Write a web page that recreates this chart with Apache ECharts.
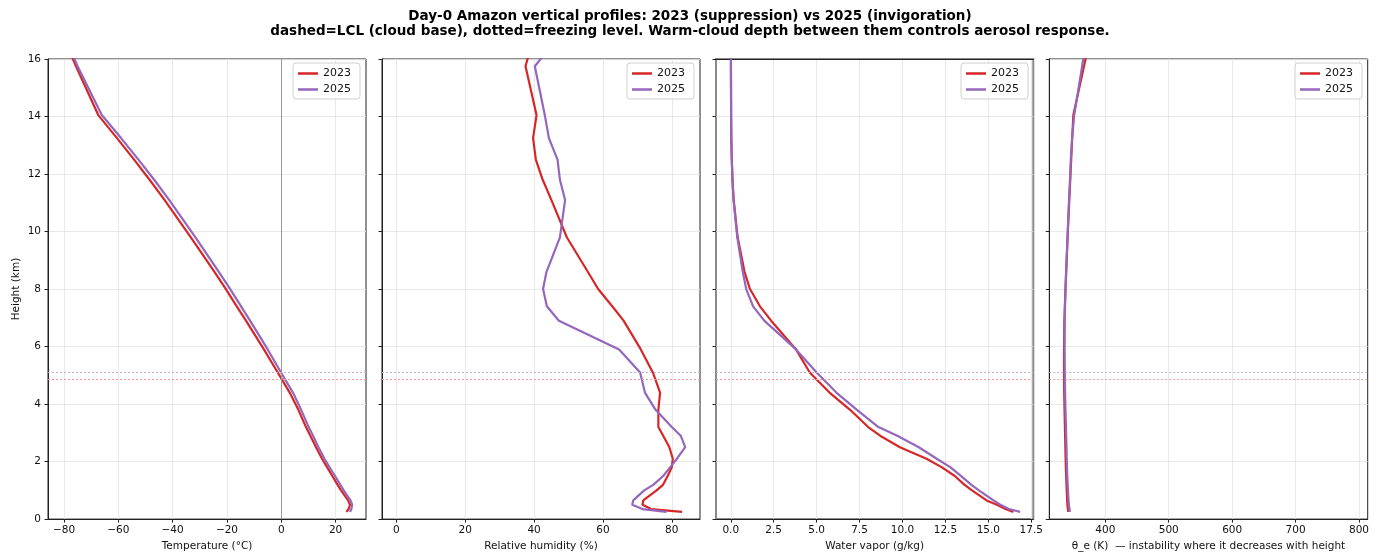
<!DOCTYPE html>
<html>
<head>
<meta charset="utf-8">
<script src="https://cdn.jsdelivr.net/npm/echarts@6/dist/echarts.min.js"></script>
<style>
  html, body { margin: 0; padding: 0; background: #fff; }
  #chart { width: 1380px; height: 557px; }
</style>
</head>
<body>
<div id="chart"></div>
<script>
// ---- Data ----
const heights = [0.25, 0.35, 0.5, 0.65, 1.0, 1.2, 1.5, 1.8, 2.1, 2.5, 2.9, 3.2, 3.8, 4.4, 5.1, 5.9, 6.9, 7.4, 8.0, 8.6, 9.8, 11.1, 11.8, 12.5, 13.25, 14.05, 15.75, 16.6];

const temp2023 = [24.0, 24.8, 25.3, 24.6, 22.0, 20.7, 18.8, 16.9, 15.0, 12.8, 10.7, 9.1, 6.3, 3.1, -1.3, -6.4, -13.0, -16.4, -20.4, -24.6, -33.3, -43.0, -48.5, -54.2, -60.5, -67.4, -75.6, -79.5];
const temp2025 = [25.3, 25.8, 26.1, 25.5, 23.0, 21.7, 19.8, 17.8, 15.9, 13.7, 11.7, 10.1, 7.3, 4.3, -0.1, -5.0, -11.5, -14.8, -18.8, -23.0, -31.6, -41.3, -46.8, -52.6, -59.0, -66.1, -75.0, -79.0];

const rh2023 = [83.0, 74.0, 71.5, 71.7, 75.6, 77.5, 78.8, 80.0, 80.3, 79.3, 77.5, 76.1, 76.1, 76.6, 74.5, 71.0, 66.0, 62.7, 58.6, 55.6, 49.5, 45.0, 42.5, 40.5, 39.7, 40.7, 37.5, 39.5];
const rh2025 = [78.5, 71.5, 68.5, 68.8, 72.0, 74.7, 77.5, 79.5, 81.5, 83.9, 82.6, 80.0, 75.3, 72.2, 70.8, 64.7, 47.2, 43.7, 42.6, 43.6, 47.5, 49.0, 47.5, 46.8, 44.3, 43.1, 40.2, 46.0];

const q2023 = [16.46, 16.0, 15.5, 14.9, 14.05, 13.6, 13.05, 12.3, 11.4, 9.85, 8.7, 8.0, 6.95, 5.75, 4.6, 3.8, 2.35, 1.7, 1.12, 0.8, 0.4, 0.17, 0.1, 0.06, 0.03, 0.02, 0.01, 0.01];
const q2025 = [16.85, 16.2, 15.7, 15.3, 14.45, 14.0, 13.4, 12.8, 12.0, 10.95, 9.7, 8.6, 7.35, 6.15, 5.0, 3.8, 1.95, 1.3, 0.9, 0.7, 0.38, 0.16, 0.1, 0.06, 0.03, 0.02, 0.01, 0.01];

const thetaE2023 = [341.6, 341.0, 340.2, 339.8, 339.2, 338.8, 338.3, 337.8, 337.4, 337.0, 336.6, 336.3, 335.7, 335.2, 334.9, 334.9, 335.5, 336.2, 337.2, 338.3, 340.6, 343.2, 344.8, 346.2, 347.8, 349.6, 366.4, 374.8];
const thetaE2025 = [344.3, 343.5, 342.6, 342.0, 341.2, 340.7, 340.1, 339.6, 339.2, 338.8, 338.3, 338.0, 337.2, 336.6, 336.2, 335.8, 336.0, 336.5, 337.3, 338.3, 340.4, 342.8, 344.3, 345.6, 347.6, 351.0, 363.4, 369.6];

const freezingLevels = { '2023': 4.86, '2025': 5.09 };

const years = ['2023', '2025'];
const xNames = ['Temperature (°C)', 'Relative humidity (%)', 'Water vapor (g/kg)', 'θ_e (K)  — instability where it decreases with height'];
const xTicks = [
  [-80, -60, -40, -20, 0, 20],
  [0, 20, 40, 60, 80],
  [0, 2.5, 5, 7.5, 10, 12.5, 15, 17.5],
  [400, 500, 600, 700, 800]
];
const titleLine1 = 'Day-0 Amazon vertical profiles: 2023 (suppression) vs 2025 (invigoration)';
const titleLine2 = 'dashed=LCL (cloud base), dotted=freezing level. Warm-cloud depth between them controls aerosol response.';

// ---- Layout ----
const panelData = [[temp2023, temp2025], [rh2023, rh2025], [q2023, q2025], [thetaE2023, thetaE2025]];
const xRange = [[-85.9, 31.2], [-4.2, 88.2], [-0.86, 17.62], [311.7, 813.7]];
const gridLeft = [48, 382, 716, 1049.3];
const gridWidth = [318, 318, 317.3, 318.4];
const legendRight = [1020, 686, 352, 18];
const colors = { '2023': '#d62728', '2025': '#9467bd' };
const dotColors = { '2023': '#ee9a9b', '2025': '#c3acdc' };
const FONT = 'DejaVu Sans';
const fs = 10.5;

function pairs(vals) { return vals.map((v, i) => [v, heights[i]]); }
function fmt(panel, v) {
  let s = panel === 2 ? Number(v).toFixed(1) : String(Math.round(v));
  return s.replace('-', '\u2212');
}

const grids = [], xAxes = [], yAxes = [], series = [], legends = [];
for (let p = 0; p < 4; p++) {
  grids.push({
    left: gridLeft[p], top: 59, width: gridWidth[p], height: 462,
    show: true, borderColor: p === 2 ? '#8a8a8a' : '#222', borderWidth: p === 2 ? 2 : 1,
    backgroundColor: 'transparent', containLabel: false
  });
  xAxes.push({
    type: 'value', gridIndex: p, min: xRange[p][0], max: xRange[p][1],
    name: xNames[p], nameLocation: 'middle', nameGap: 21,
    nameTextStyle: { fontFamily: FONT, fontSize: fs, color: '#111' },
    axisLine: { show: true, onZero: false, lineStyle: { color: '#222', width: 1 } },
    axisTick: { show: true, length: 3.5, inside: false, customValues: xTicks[p], lineStyle: { color: '#222' } },
    axisLabel: { customValues: xTicks[p], margin: 6, fontFamily: FONT, fontSize: fs, color: '#111',
                 formatter: (v) => fmt(p, v) },
    splitLine: { show: true, lineStyle: { color: '#e3e3e3', width: 0.8 } }
  });
  yAxes.push({
    type: 'value', gridIndex: p, min: 0, max: 16, interval: 2,
    name: p === 0 ? 'Height (km)' : '', nameLocation: 'middle', nameGap: 26, nameRotate: 90,
    nameTextStyle: { fontFamily: FONT, fontSize: fs, color: '#111' },
    axisLine: { show: p !== 2, onZero: false, lineStyle: { color: '#222', width: 1 } },
    axisTick: { show: true, length: 3.5, lineStyle: { color: '#222' } },
    axisLabel: { show: p === 0, margin: 7, fontFamily: FONT, fontSize: fs, color: '#111' },
    splitLine: { show: true, lineStyle: { color: '#e3e3e3', width: 0.8 } }
  });
  years.forEach((yr, k) => {
    const s = {
      name: yr, type: 'line', xAxisIndex: p, yAxisIndex: p,
      data: pairs(panelData[p][k]), symbol: 'none', showSymbol: false,
      lineStyle: { color: colors[yr], width: 2.2 }, itemStyle: { color: colors[yr] },
      clip: true, z: 3 + k,
      markLine: {
        silent: true, symbol: ['none', 'none'], label: { show: false }, animation: false,
        emphasis: { disabled: true },
        data: [{ yAxis: freezingLevels[yr], lineStyle: { color: dotColors[yr], type: [2, 2], width: 1 } }]
      }
    };
    series.push(s);
  });
  if (p === 0) {
    series.push({
      name: 'zero', type: 'line', xAxisIndex: 0, yAxisIndex: 0, data: [], symbol: 'none',
      markLine: {
        silent: true, symbol: ['none', 'none'], label: { show: false }, animation: false,
        data: [{ xAxis: 0, lineStyle: { color: '#999999', type: 'solid', width: 1 } }]
      }
    });
  }
  legends.push({
    data: years, right: legendRight[p], top: 63, orient: 'vertical',
    icon: 'rect', itemWidth: 20, itemHeight: 2.5, itemGap: 5, itemTextGap: 7,
    padding: [5, 9, 4, 5], borderColor: '#d0d0d0', borderWidth: 1, borderRadius: 3,
    backgroundColor: 'rgba(255,255,255,0.85)',
    textStyle: { fontFamily: FONT, fontSize: 11, color: '#111' },
    selectedMode: false
  });
}
// top spine for panel 3 (black) over gray border
xAxes.push({
  type: 'value', gridIndex: 2, min: xRange[2][0], max: xRange[2][1], position: 'top',
  axisLine: { show: true, onZero: false, lineStyle: { color: '#222', width: 1 } },
  axisTick: { show: false }, axisLabel: { show: false }, splitLine: { show: false }
});

const chart = echarts.init(document.getElementById('chart'), null, { renderer: 'canvas' });
chart.setOption({
  animation: false,
  backgroundColor: '#fff',
  title: [
    { text: titleLine1, left: 'center', top: 4,
      textStyle: { fontFamily: FONT, fontSize: 13.5, fontWeight: 'bold', color: '#000' } },
    { text: titleLine2, left: 'center', top: 19,
      textStyle: { fontFamily: FONT, fontSize: 13.5, fontWeight: 'bold', color: '#000' } }
  ],
  legend: legends,
  grid: grids,
  xAxis: xAxes,
  yAxis: yAxes,
  series: series
});
</script>
</body>
</html>
